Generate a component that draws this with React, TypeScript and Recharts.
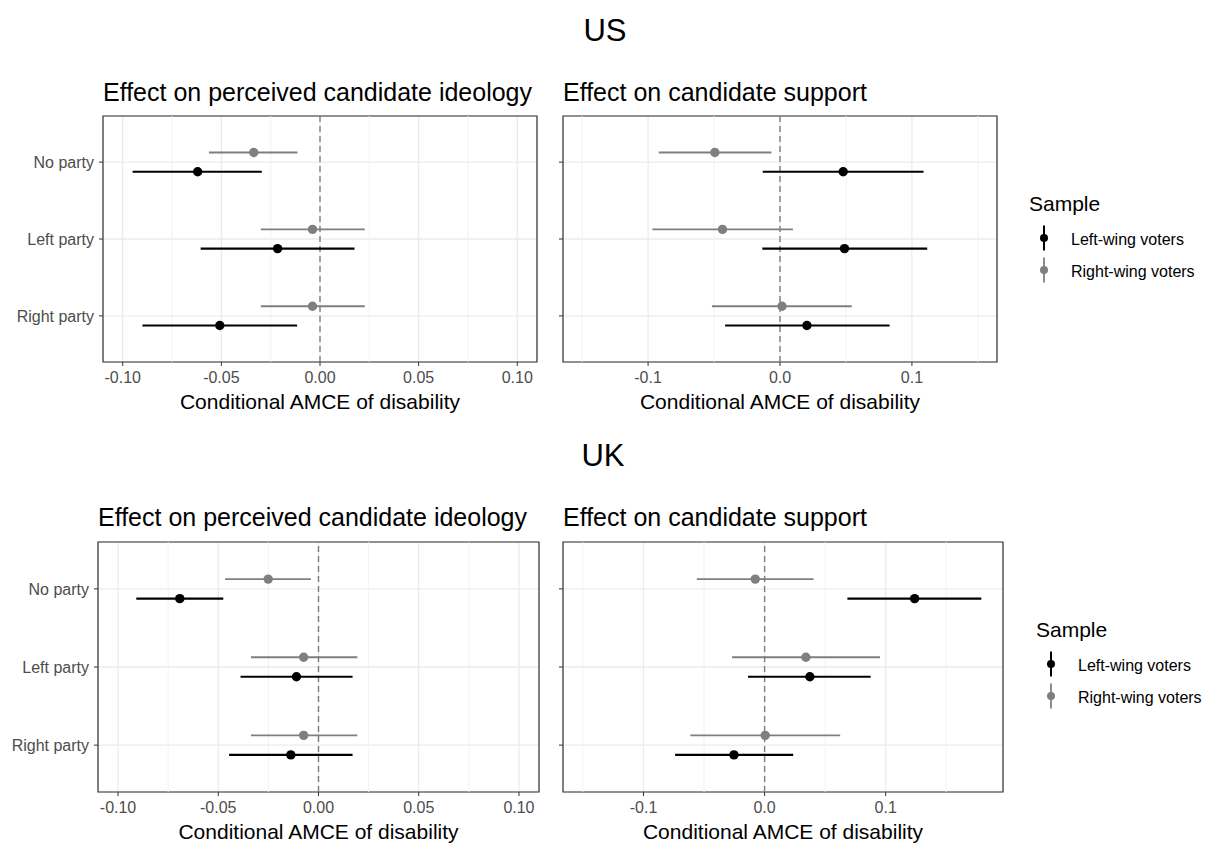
import React from 'react';
import {
  ScatterChart,
  Scatter,
  XAxis,
  YAxis,
  CartesianGrid,
  ReferenceLine,
  ReferenceArea,
  ErrorBar,
  Label,
} from 'recharts';

const FONT = '"Liberation Sans", Arial, Helvetica, sans-serif';
const LEFT_COLOR = '#000000';
const RIGHT_COLOR = '#7f7f7f';

// categories, top to bottom
const categories = ['No party', 'Left party', 'Right party'];
const sampleNames = ['Left-wing voters', 'Right-wing voters'];
const panelTitles = ['Effect on perceived candidate ideology', 'Effect on candidate support'];
const xTitle = 'Conditional AMCE of disability';

const ideologyTicks = [-0.1, -0.05, 0, 0.05, 0.1];
const ideologyMinor = [-0.075, -0.025, 0.025, 0.075];
const supportTicks = [-0.1, 0, 0.1];
const supportMinor = [-0.15, -0.05, 0.05, 0.15];

// US - perceived ideology
const usIdeoLeftEst = [-0.062, -0.0215, -0.0508];
const usIdeoLeftLo = [-0.095, -0.0605, -0.09];
const usIdeoLeftHi = [-0.0295, 0.0175, -0.0116];
const usIdeoRightEst = [-0.0336, -0.0038, -0.0038];
const usIdeoRightLo = [-0.0563, -0.03, -0.03];
const usIdeoRightHi = [-0.0114, 0.0227, 0.0227];

// US - candidate support
const usSuppLeftEst = [0.0479, 0.0489, 0.0204];
const usSuppLeftLo = [-0.0131, -0.0134, -0.0416];
const usSuppLeftHi = [0.1088, 0.1116, 0.0831];
const usSuppRightEst = [-0.0494, -0.0436, 0.0015];
const usSuppRightLo = [-0.0919, -0.0967, -0.0516];
const usSuppRightHi = [-0.0065, 0.0098, 0.0544];

// UK - perceived ideology
const ukIdeoLeftEst = [-0.0692, -0.011, -0.0138];
const ukIdeoLeftLo = [-0.0909, -0.0389, -0.0446];
const ukIdeoLeftHi = [-0.0475, 0.017, 0.017];
const ukIdeoRightEst = [-0.0251, -0.0074, -0.0074];
const ukIdeoRightLo = [-0.0466, -0.0337, -0.0337];
const ukIdeoRightHi = [-0.0038, 0.0194, 0.0194];

// UK - candidate support
const ukSuppLeftEst = [0.1239, 0.0374, -0.0253];
const ukSuppLeftLo = [0.0684, -0.0137, -0.0739];
const ukSuppLeftHi = [0.179, 0.0876, 0.0236];
const ukSuppRightEst = [-0.0077, 0.0341, 0.0005];
const ukSuppRightLo = [-0.056, -0.0269, -0.0613];
const ukSuppRightHi = [0.0404, 0.0953, 0.0624];

const DODGE = 0.125;

type Series = { est: number[]; lo: number[]; hi: number[] };

const rows = (s: Series, offset: number) =>
  categories.map((c, i) => ({
    cat: c,
    y: categories.length - i + offset,
    x: s.est[i],
    err: [s.est[i] - s.lo[i], s.hi[i] - s.est[i]],
  }));

const catLabel = (v: number) => categories[categories.length - Math.round(v)] ?? '';

interface PanelProps {
  left: number;
  top: number;
  plotW: number;
  plotH: number;
  yw: number;
  domain: [number, number];
  ticks: number[];
  minor: number[];
  digits: number;
  showLabels: boolean;
  leftWing: Series;
  rightWing: Series;
}

const MT = 6;
const MR = 6;
const XH = 52;

const Panel: React.FC<PanelProps> = (p) => {
  const leftRows = rows(p.leftWing, -DODGE);
  const rightRows = rows(p.rightWing, DODGE);
  const yDomain: [number, number] = [0.4, categories.length + 0.6];
  return (
    <div style={{ position: 'absolute', left: p.left - p.yw, top: p.top - MT }}>
      <ScatterChart
        width={p.yw + p.plotW + MR}
        height={MT + p.plotH + XH}
        margin={{ top: MT, right: MR, bottom: 0, left: 0 }}
      >
        <CartesianGrid stroke="#ebebeb" strokeWidth={1.3} />
        {p.minor.map((m) => (
          <ReferenceLine key={m} x={m} stroke="#f0f0f0" strokeWidth={0.9} />
        ))}
        <XAxis
          type="number"
          dataKey="x"
          domain={p.domain}
          ticks={p.ticks}
          interval={0}
          allowDataOverflow
          axisLine={false}
          tickSize={4}
          tickMargin={6}
          tickLine={{ stroke: '#333333' }}
          tick={{ fill: '#4d4d4d', fontSize: 16, fontFamily: FONT }}
          tickFormatter={(v: number) => v.toFixed(p.digits)}
          height={XH}
        >
          <Label
            value={xTitle}
            position="insideBottom"
            offset={5}
            style={{ fill: '#000', fontSize: 21, fontFamily: FONT }}
          />
        </XAxis>
        <YAxis
          type="number"
          dataKey="y"
          domain={yDomain}
          ticks={[1, 2, 3]}
          interval={0}
          allowDataOverflow
          axisLine={false}
          tickSize={4}
          tickMargin={5}
          tickLine={{ stroke: '#333333' }}
          tick={{ fill: '#4d4d4d', fontSize: 16, fontFamily: FONT }}
          tickFormatter={(v: number) => (p.showLabels ? catLabel(v) : '')}
          width={p.yw}
        />
        <ReferenceLine x={0} stroke="#7f7f7f" strokeWidth={1.4} strokeDasharray="6 4" />
        <Scatter
          name={sampleNames[1]}
          data={rightRows}
          isAnimationActive={false}
          shape={(s: any) => <circle cx={s.cx} cy={s.cy} r={4.7} fill={RIGHT_COLOR} />}
        >
          <ErrorBar dataKey="err" direction="x" width={0} stroke={RIGHT_COLOR} strokeWidth={1.9} />
        </Scatter>
        <Scatter
          name={sampleNames[0]}
          data={leftRows}
          isAnimationActive={false}
          shape={(s: any) => <circle cx={s.cx} cy={s.cy} r={4.7} fill={LEFT_COLOR} />}
        >
          <ErrorBar dataKey="err" direction="x" width={0} stroke={LEFT_COLOR} strokeWidth={2.1} />
        </Scatter>
        <ReferenceArea
          x1={p.domain[0]}
          x2={p.domain[1]}
          y1={yDomain[0]}
          y2={yDomain[1]}
          fill="none"
          fillOpacity={0}
          stroke="#333333"
          strokeWidth={1.2}
        />
      </ScatterChart>
    </div>
  );
};

const Txt: React.FC<{ x: number; cy: number; size: number; children: React.ReactNode; center?: boolean }> = ({
  x,
  cy,
  size,
  children,
  center,
}) => (
  <div
    style={{
      position: 'absolute',
      left: center ? x - 300 : x,
      width: center ? 600 : undefined,
      textAlign: center ? 'center' : 'left',
      top: cy - size * 0.59,
      fontSize: size,
      lineHeight: `${size * 1.2}px`,
      whiteSpace: 'nowrap',
      color: '#000',
    }}
  >
    {children}
  </div>
);

const SampleLegend: React.FC<{ x: number; cy: number }> = ({ x, cy }) => {
  const colors = [LEFT_COLOR, RIGHT_COLOR];
  return (
    <>
      <Txt x={x} cy={cy} size={21}>
        Sample
      </Txt>
      {sampleNames.map((n, i) => {
        const ky = cy + 34.5 + i * 32;
        return (
          <React.Fragment key={n}>
            <svg
              style={{ position: 'absolute', left: x + 9, top: ky - 13 }}
              width={12}
              height={26}
            >
              <line x1={6} x2={6} y1={0.5} y2={25.5} stroke={colors[i]} strokeWidth={i === 0 ? 2 : 1.8} />
              <circle cx={6} cy={13} r={4} fill={colors[i]} />
            </svg>
            <Txt x={x + 42} cy={ky + 1.5} size={16}>
              {n}
            </Txt>
          </React.Fragment>
        );
      })}
    </>
  );
};

export default function App() {
  return (
    <div
      style={{
        position: 'absolute',
        left: 0,
        top: 0,
        width: 1207,
        height: 843,
        background: '#fff',
        fontFamily: FONT,
        overflow: 'hidden',
      }}
    >
      {/* US */}
      <Txt x={605} cy={30} size={31} center>
        US
      </Txt>
      <Txt x={103} cy={92} size={25}>
        {panelTitles[0]}
      </Txt>
      <Txt x={563} cy={92} size={25}>
        {panelTitles[1]}
      </Txt>
      <Panel
        left={103}
        top={116}
        plotW={434}
        plotH={246}
        yw={100}
        domain={[-0.11, 0.11]}
        ticks={ideologyTicks}
        minor={ideologyMinor}
        digits={2}
        showLabels
        leftWing={{ est: usIdeoLeftEst, lo: usIdeoLeftLo, hi: usIdeoLeftHi }}
        rightWing={{ est: usIdeoRightEst, lo: usIdeoRightLo, hi: usIdeoRightHi }}
      />
      <Panel
        left={563}
        top={116}
        plotW={434}
        plotH={246}
        yw={10}
        domain={[-0.1645, 0.1645]}
        ticks={supportTicks}
        minor={supportMinor}
        digits={1}
        showLabels={false}
        leftWing={{ est: usSuppLeftEst, lo: usSuppLeftLo, hi: usSuppLeftHi }}
        rightWing={{ est: usSuppRightEst, lo: usSuppRightLo, hi: usSuppRightHi }}
      />
      <SampleLegend x={1029} cy={203} />

      {/* UK */}
      <Txt x={603} cy={455} size={31} center>
        UK
      </Txt>
      <Txt x={98} cy={517} size={25}>
        {panelTitles[0]}
      </Txt>
      <Txt x={563} cy={517} size={25}>
        {panelTitles[1]}
      </Txt>
      <Panel
        left={98}
        top={542}
        plotW={441}
        plotH={250}
        yw={95}
        domain={[-0.11, 0.11]}
        ticks={ideologyTicks}
        minor={ideologyMinor}
        digits={2}
        showLabels
        leftWing={{ est: ukIdeoLeftEst, lo: ukIdeoLeftLo, hi: ukIdeoLeftHi }}
        rightWing={{ est: ukIdeoRightEst, lo: ukIdeoRightLo, hi: ukIdeoRightHi }}
      />
      <Panel
        left={563}
        top={542}
        plotW={440}
        plotH={250}
        yw={10}
        domain={[-0.1665, 0.1969]}
        ticks={supportTicks}
        minor={supportMinor}
        digits={1}
        showLabels={false}
        leftWing={{ est: ukSuppLeftEst, lo: ukSuppLeftLo, hi: ukSuppLeftHi }}
        rightWing={{ est: ukSuppRightEst, lo: ukSuppRightLo, hi: ukSuppRightHi }}
      />
      <SampleLegend x={1036} cy={629.5} />
    </div>
  );
}
